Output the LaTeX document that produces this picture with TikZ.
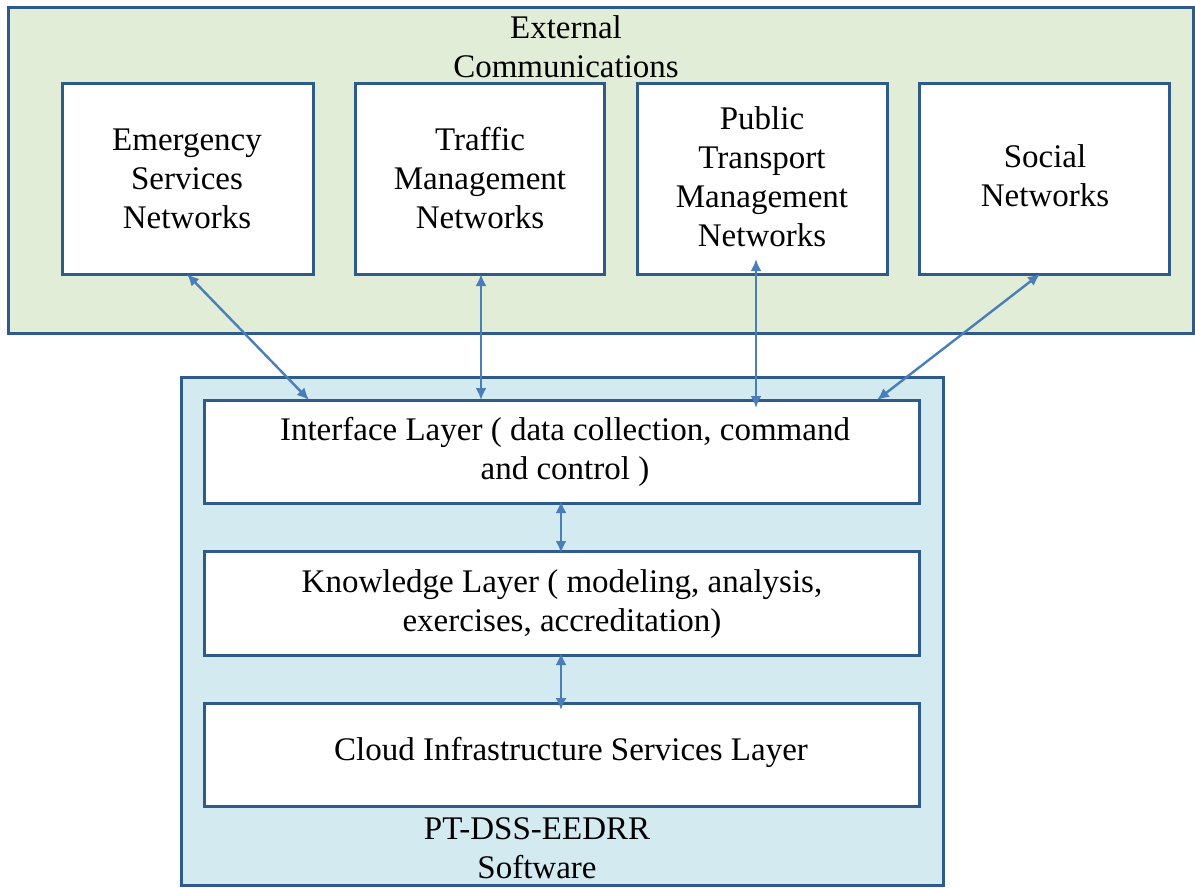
\documentclass[tikz,border=0pt]{standalone}
\usepackage{fontspec}
\setmainfont{Liberation Serif}
\usetikzlibrary{arrows.meta}
\definecolor{bord}{HTML}{2F5A8C}
\definecolor{arr}{HTML}{4A7EBB}
\definecolor{gfill}{HTML}{E2EDD8}
\definecolor{bfill}{HTML}{D4EAF1}
\tikzset{
  panel/.style={draw=bord, line width=1.5pt},
  netbox/.style={draw=bord, line width=1.5pt, fill=white},
  lbl/.style={align=center, font=\fontsize{16.5}{19.5}\selectfont, inner sep=0pt},
  link/.style={draw=arr, line width=1.2pt, {Latex[length=6pt,width=5.5pt]}-{Latex[length=6pt,width=5.5pt]}}
}
\begin{document}
\begin{tikzpicture}[x=0.5pt,y=-0.5pt]
\useasboundingbox (0,0) rectangle (1195,888);
% external panel
\draw[panel, fill=gfill] (8,8) rectangle (1193,333);
\node[lbl] (ext) at (566,47) {External\\Communications};
% network boxes
\draw[netbox] (62,84) rectangle (313,274);
\coordinate (esb) at (187,274);
\node[lbl] (es) at (187,179) {Emergency\\Services\\Networks};
\draw[netbox] (355,84) rectangle (604,274);
\coordinate (tmb) at (481,274);
\node[lbl] (tm) at (480,178) {Traffic\\Management\\Networks};
\draw[netbox] (637,84) rectangle (887,274);
\node[lbl] (pt) at (762,177) {Public\\Transport\\Management\\Networks};
\coordinate (ptb) at (756,259);
\draw[netbox] (919,84) rectangle (1169,274);
\coordinate (snb) at (1040,274);
\node[lbl] (sn) at (1045,176) {Social\\Networks};
% software panel
\draw[panel, fill=bfill] (181,377) rectangle (943,885);
\draw[netbox] (204,400) rectangle (919,503);
\node[lbl] (il) at (565,452) {Interface Layer ( data collection, command\\and control )};
\draw[netbox] (204,551) rectangle (919,655);
\node[lbl] (kl) at (562,604) {Knowledge Layer ( modeling, analysis,\\exercises, accreditation)};
\draw[netbox] (204,703) rectangle (919,806);
\node[lbl] (cl) at (571,752) {Cloud Infrastructure Services Layer};
\node[lbl] (sw) at (537,848) {PT-DSS-EEDRR\\Software};
% connectors
\coordinate (i1) at (309,400);
\coordinate (i2) at (481,400);
\coordinate (i3) at (756,408);
\coordinate (i4) at (877,400);
\coordinate (ib) at (561,501);
\coordinate (kt) at (561,553);
\coordinate (kb) at (561,653);
\coordinate (ct) at (561,710);
\draw[link] (esb) -- (i1);
\draw[link] (tmb) -- (i2);
\draw[link] (ptb) -- (i3);
\draw[link] (snb) -- (i4);
\draw[link] (ib) -- (kt);
\draw[link] (kb) -- (ct);
\end{tikzpicture}
\end{document}
